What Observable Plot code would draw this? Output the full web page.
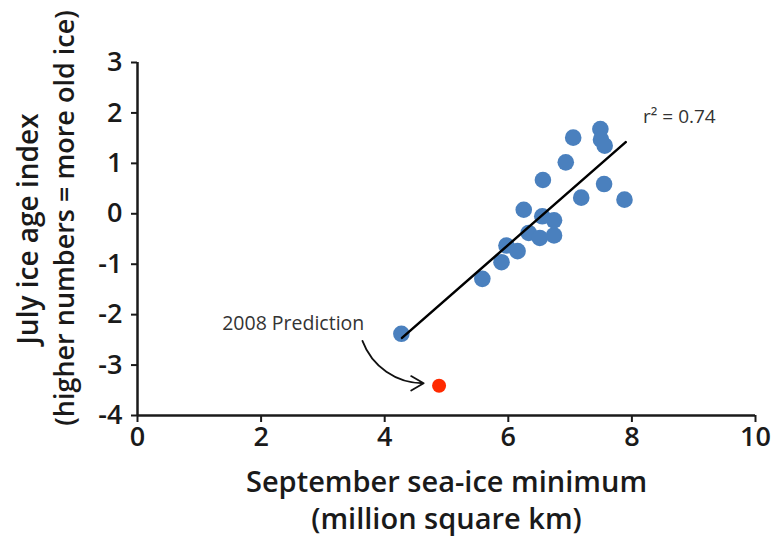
<!DOCTYPE html>
<html>
<head>
<meta charset="utf-8">
<script src="https://cdn.jsdelivr.net/npm/d3@7"></script>
<script src="https://cdn.jsdelivr.net/npm/@observablehq/plot@0.6"></script>
<style>
  html, body { margin: 0; padding: 0; background: #fff; }
  #chart svg { display: block; }
</style>
</head>
<body>
<div id="chart"></div>
<script>
// Observed years: September sea-ice minimum (million km²) vs July ice age index
const seaIce = [4.27, 5.58, 5.89, 5.97, 6.15, 6.33, 6.51, 6.74, 6.74, 6.55, 6.25, 6.56, 6.93, 7.05, 7.18, 7.49, 7.50, 7.56, 7.55, 7.88];
const iceAge = [-2.38, -1.29, -0.96, -0.63, -0.74, -0.38, -0.48, -0.43, -0.13, -0.05, 0.08, 0.67, 1.02, 1.51, 0.32, 1.68, 1.47, 1.35, 0.59, 0.28];
// 2008 prediction
const predX = [4.88];
const predY = [-3.41];
// Fitted regression line endpoints
const fitX = [4.28, 7.90];
const fitY = [-2.46, 1.42];
const r2Label = ["r\u00B2 = 0.74"];
const r2Pos = {x: 8.18, y: 1.92};
const predLabel = ["2008 Prediction"];
const predLabelPos = {x: 2.52, y: -2.18};
const arrowFrom = {x: 3.64, y: -2.52};
const arrowTo = {x: 4.63, y: -3.36};
const xTicks = [0, 2, 4, 6, 8, 10];
const yTicks = [-4, -3, -2, -1, 0, 1, 2, 3];
const xTitle = ["September sea-ice minimum", "(million square km)"];
const yTitle = ["July ice age index", "(higher numbers = more old ice)"];

const obs = seaIce.map((x, i) => ({x, y: iceAge[i]}));
const pred = predX.map((x, i) => ({x, y: predY[i]}));
const fit = fitX.map((x, i) => ({x, y: fitY[i]}));

const axisColor = "#1a1a1a";
const font = "'Open Sans', sans-serif";

const chart = Plot.plot({
  width: 771,
  height: 544,
  marginLeft: 137,
  marginRight: 16,
  marginTop: 62,
  marginBottom: 129,
  style: {fontFamily: font, background: "#fff", color: axisColor, overflow: "visible"},
  x: {domain: [0, 10]},
  y: {domain: [-4, 3]},
  marks: [
    Plot.axisX({ticks: xTicks, tickFormat: d => String(d), tickSize: 7, tickPadding: 4, fontSize: 27, fontWeight: 600, strokeWidth: 2, label: null, stroke: axisColor, fill: axisColor}),
    Plot.axisY({ticks: yTicks, tickFormat: d => String(d), tickSize: 6, tickPadding: 9, fontSize: 27, fontWeight: 600, strokeWidth: 2, label: null, stroke: axisColor, fill: axisColor}),
    Plot.ruleX([0], {stroke: axisColor, strokeWidth: 2.5}),
    Plot.ruleY([-4], {stroke: axisColor, strokeWidth: 2.5}),
    Plot.dot(obs, {x: "x", y: "y", r: 8.3, fill: "#4a80be", stroke: "none"}),
    Plot.line(fit, {x: "x", y: "y", stroke: "#000", strokeWidth: 2.5}),
    Plot.dot(pred, {x: "x", y: "y", r: 7, fill: "#ff2a00", stroke: "none"}),
    Plot.arrow([0], {x1: () => arrowFrom.x, y1: () => arrowFrom.y, x2: () => arrowTo.x, y2: () => arrowTo.y, bend: -35, stroke: "#111", strokeWidth: 1.8, headLength: 12}),
    Plot.text(predLabel, {x: () => predLabelPos.x, y: () => predLabelPos.y, text: d => d, textAnchor: "middle", fontSize: 19.5, fill: "#333"}),
    Plot.text(r2Label, {x: () => r2Pos.x, y: () => r2Pos.y, text: d => d, textAnchor: "start", fontSize: 19, fill: "#333"}),
    Plot.text([xTitle[0]], {frameAnchor: "bottom", text: d => d, dy: 76, fontSize: 29, fontWeight: 600, fill: axisColor}),
    Plot.text([xTitle[1]], {frameAnchor: "bottom", text: d => d, dy: 113, fontSize: 29, fontWeight: 600, fill: axisColor}),
    Plot.text([yTitle[0]], {frameAnchor: "left", textAnchor: "middle", text: d => d, rotate: -90, dx: -108, dy: -10, fontSize: 28, fontWeight: 600, fill: axisColor}),
    Plot.text([yTitle[1]], {frameAnchor: "left", textAnchor: "middle", text: d => d, rotate: -90, dx: -72, dy: -21, fontSize: 27, fontWeight: 600, fill: axisColor})
  ]
});
document.getElementById("chart").appendChild(chart);
</script>
</body>
</html>
